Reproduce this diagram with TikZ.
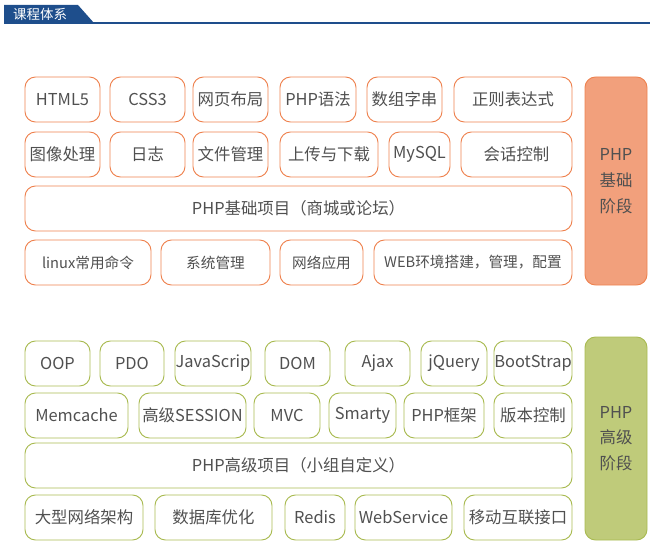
\documentclass[tikz,border=0pt]{standalone}
\usepackage{fontspec}
\setmainfont{Noto Sans CJK SC}
\definecolor{hdblue}{HTML}{1E4E8C}
\definecolor{orline}{HTML}{EE8350}
\definecolor{orfill}{HTML}{F2A07C}
\definecolor{grline}{HTML}{A9BB52}
\definecolor{grfill}{HTML}{BFCB7A}
\definecolor{txgray}{HTML}{505050}
\tikzset{
  obox/.style={draw=orline, line width=0.8pt, rounded corners=9pt, text=txgray, font=\fontsize{14}{16}\selectfont},
  gbox/.style={draw=grline, line width=0.8pt, rounded corners=9pt, text=txgray, font=\fontsize{14}{16}\selectfont},
  sbox/.style={font=\fontsize{12.5}{15}\selectfont},
  oside/.style={obox, fill=orfill, align=center},
  gside/.style={gbox, fill=grfill, align=center}
}
% box: style, name, x1, x2, y1, y2, text (pixels)
\newcommand{\pbox}[7]{%
  \node[#1, inner sep=0pt, minimum width={(#4-#3)*0.3mm}, minimum height={(#6-#5)*0.3mm}]
    (#2) at ({(#3+#4)/2},{(#5+#6)/2}) {#7};}

\begin{document}
\begin{tikzpicture}[x=0.3mm, y=-0.3mm]
\useasboundingbox (0,0) rectangle (652,547);
% header
\fill[hdblue] (4,5) -- (78,5) -- (94,23) -- (4,23) -- cycle;
\draw[hdblue, line width=1.2pt] (4,23) -- (650,23);
\node[text=white, font=\fontsize{11.5}{13}\selectfont, anchor=west] (title) at (9,14) {课程体系};

% basic stage
\pbox{obox}{html}{25}{100}{77}{122}{HTML5}
\pbox{obox}{css}{110}{185}{77}{122}{CSS3}
\pbox{obox}{layout}{193}{268}{77}{122}{网页布局}
\pbox{obox}{syntax}{280}{356}{77}{122}{PHP语法}
\pbox{obox}{arrstr}{367}{442}{77}{122}{数组字串}
\pbox{obox}{regex}{454}{572}{77}{122}{正则表达式}
\pbox{obox}{image}{25}{100}{132}{177}{图像处理}
\pbox{obox}{log}{110}{185}{132}{177}{日志}
\pbox{obox}{files}{193}{268}{132}{177}{文件管理}
\pbox{obox}{upload}{280}{378}{132}{177}{上传与下载}
\pbox{obox}{mysql}{389}{450}{132}{177}{MySQL}
\pbox{obox}{session}{461}{572}{132}{177}{会话控制}
\pbox{obox}{proj1}{25}{572}{186}{231}{PHP基础项目（商城或论坛）}
\pbox{obox,sbox}{linux}{25}{151}{240}{285}{linux常用命令}
\pbox{obox,sbox}{sysadm}{161}{270}{240}{285}{系统管理}
\pbox{obox,sbox}{netapp}{280}{363}{240}{285}{网络应用}
\pbox{obox,sbox}{webenv}{374}{572}{240}{285}{WEB环境搭建，管理，配置}
\pbox{oside}{basic}{585}{647}{77}{285}{PHP\\[6pt]基础\\[6pt]阶段}

% advanced stage
\pbox{gbox}{oop}{25}{90}{341}{386}{OOP}
\pbox{gbox}{pdo}{100}{164}{341}{386}{PDO}
\pbox{gbox}{js}{175}{251}{341}{386}{JavaScrip}
\pbox{gbox}{dom}{265}{330}{341}{386}{DOM}
\pbox{gbox}{ajax}{345}{410}{341}{386}{Ajax}
\pbox{gbox}{jquery}{421}{487}{341}{386}{jQuery}
\pbox{gbox}{boot}{494}{572}{341}{386}{BootStrap}
\pbox{gbox}{memc}{25}{128}{393}{438}{Memcache}
\pbox{gbox}{hsess}{139}{246}{393}{438}{高级SESSION}
\pbox{gbox}{mvc}{254}{320}{393}{438}{MVC}
\pbox{gbox}{smarty}{329}{396}{393}{438}{Smarty}
\pbox{gbox}{frame}{404}{484}{393}{438}{PHP框架}
\pbox{gbox}{vcs}{494}{572}{393}{438}{版本控制}
\pbox{gbox}{proj2}{25}{572}{443}{488}{PHP高级项目（小组自定义）}
\pbox{gbox}{arch}{25}{143}{495}{540}{大型网络架构}
\pbox{gbox}{dbopt}{155}{272}{495}{540}{数据库优化}
\pbox{gbox}{redis}{285}{345}{495}{540}{Redis}
\pbox{gbox}{websvc}{355}{452}{495}{540}{WebService}
\pbox{gbox}{mobile}{464}{572}{495}{540}{移动互联接口}
\pbox{gside}{adv}{585}{647}{337}{540}{PHP\\[6pt]高级\\[6pt]阶段}
\end{tikzpicture}
\end{document}
